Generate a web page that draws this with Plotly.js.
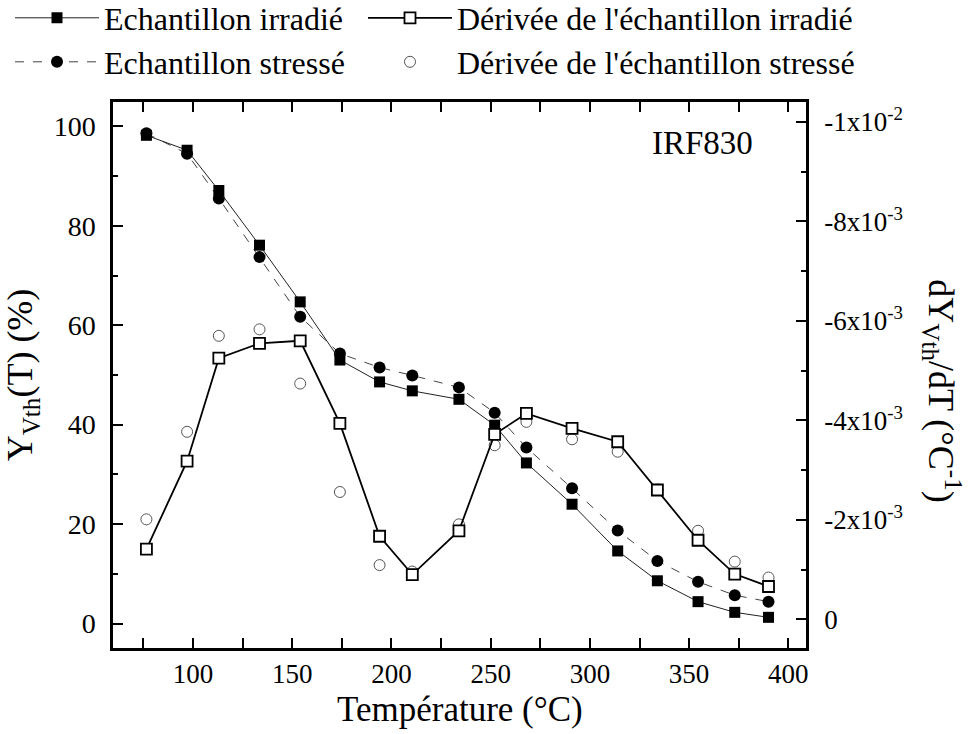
<!DOCTYPE html>
<html>
<head>
<meta charset="utf-8">
<script src="https://cdn.plot.ly/plotly-3.0.1.min.js"></script>
<style>html,body{margin:0;padding:0;background:#fff;}#chart{width:970px;height:734px;}</style>
</head>
<body>
<div id="chart"></div>
<script>
// Temperature (°C)
const temperature = [76.5, 97, 113, 133.5, 154, 174, 194, 210.5, 234, 252, 268, 291, 314, 334, 354.5, 373, 390];
// Y_Vth(T) (%)
const echIrradie = [98.2, 95.2, 87.1, 76.1, 64.7, 53.0, 48.6, 46.8, 45.1, 39.9, 32.3, 24.0, 14.6, 8.6, 4.4, 2.25, 1.25];
const echStresse = [98.6, 94.5, 85.5, 73.7, 61.7, 54.3, 51.5, 49.9, 47.5, 42.4, 35.4, 27.2, 18.7, 12.6, 8.4, 5.7, 4.4];
// dY_Vth/dT (°C^-1)
const derivIrradie = [-1.41e-3, -3.18e-3, -5.25e-3, -5.55e-3, -5.60e-3, -3.94e-3, -1.67e-3, -0.90e-3, -1.78e-3, -3.72e-3, -4.14e-3, -3.84e-3, -3.57e-3, -2.60e-3, -1.59e-3, -0.91e-3, -0.66e-3];
const derivStresse = [-2.01e-3, -3.77e-3, -5.70e-3, -5.83e-3, -4.74e-3, -2.56e-3, -1.09e-3, -0.96e-3, -1.91e-3, -3.50e-3, -3.97e-3, -3.62e-3, -3.37e-3, -2.61e-3, -1.78e-3, -1.16e-3, -0.84e-3];
// Right-axis tick labels
const derivTickVals = [0, -0.002, -0.004, -0.006, -0.008, -0.01];
const derivTickText = ['0', '-2x10<sup>-3</sup>', '-4x10<sup>-3</sup>', '-6x10<sup>-3</sup>', '-8x10<sup>-3</sup>', '-1x10<sup>-2</sup>'];
const derivMinorVals = [-0.001, -0.003, -0.005, -0.007, -0.009];

const FONT = 'Liberation Serif, Times New Roman, serif';

const traces = [
  {
    x: temperature, y: derivStresse, yaxis: 'y2', name: "Dérivée de l'échantillon stressé",
    mode: 'markers', legend: 'legend4',
    marker: {symbol: 'circle-open', size: 11, color: '#555', line: {width: 1, color: '#555'}}
  },
  {
    x: temperature, y: echStresse, name: 'Echantillon stressé', mode: 'lines+markers',
    legend: 'legend3',
    line: {color: '#444', width: 1, dash: 'dash'},
    marker: {symbol: 'circle', size: 12, color: '#000'}
  },
  {
    x: temperature, y: echIrradie, name: 'Echantillon irradié', mode: 'lines+markers',
    legend: 'legend',
    line: {color: '#222', width: 1},
    marker: {symbol: 'square', size: 11, color: '#000'}
  },
  {
    x: temperature, y: derivIrradie, yaxis: 'y2', name: "Dérivée de l'échantillon irradié",
    mode: 'lines+markers', legend: 'legend2',
    line: {color: '#000', width: 1.8},
    marker: {symbol: 'square', size: 11, color: '#fff', line: {width: 1.8, color: '#000'}}
  }
];

function legendAt(xpx, ycenter) {
  return {
    orientation: 'h', xref: 'container', yref: 'container',
    x: xpx / 970, y: 1 - ycenter / 734, xanchor: 'left', yanchor: 'middle',
    font: {family: FONT, size: 32, color: '#000'},
    itemwidth: 84, tracegroupgap: 0,
    bgcolor: 'rgba(0,0,0,0)', borderwidth: 0
  };
}

const layout = {
  width: 970, height: 734,
  paper_bgcolor: '#fff', plot_bgcolor: '#fff',
  margin: {l: 113, r: 164, t: 102, b: 86, autoexpand: false},
  font: {family: FONT, color: '#000', size: 26},
  showlegend: true,
  legend: legendAt(10, 18),
  legend2: legendAt(363, 18),
  legend3: legendAt(10, 62),
  legend4: legendAt(363, 62),
  xaxis: {
    range: [59.66, 408.9], tickmode: 'linear', tick0: 0, dtick: 50,
    ticks: 'inside', ticklen: 10, tickwidth: 2, tickcolor: '#000',
    minor: {ticks: 'inside', ticklen: 5, tickwidth: 2, dtick: 25, tick0: 0, tickcolor: '#000'},
    showline: true, linewidth: 2.5, linecolor: '#000', mirror: 'allticks',
    showgrid: false, zeroline: false,
    tickfont: {family: FONT, size: 27, color: '#000'}, ticklabelstandoff: 0
  },
  yaxis: {
    range: [-4.92, 104.9], tickmode: 'linear', tick0: 0, dtick: 20,
    ticks: 'inside', ticklen: 10, tickwidth: 2, tickcolor: '#000',
    minor: {ticks: 'inside', ticklen: 5, tickwidth: 2, dtick: 10, tick0: 0, tickcolor: '#000'},
    showline: true, linewidth: 2.5, linecolor: '#000',
    showgrid: false, zeroline: false,
    tickfont: {family: FONT, size: 28, color: '#000'}, ticklabelstandoff: 9,
    title: {text: 'Y<sub>Vth</sub>(T) (%)', font: {family: FONT, size: 36, color: '#000'}, standoff: 12}
  },
  yaxis2: {
    overlaying: 'y', side: 'right',
    range: [0.000577, -0.010402],
    tickmode: 'array', tickvals: derivTickVals, ticktext: derivTickText,
    ticks: 'inside', ticklen: 10, tickwidth: 2, tickcolor: '#000',
    minor: {ticks: 'inside', ticklen: 5, tickwidth: 2, tickvals: derivMinorVals, tickcolor: '#000'},
    showline: true, linewidth: 2.5, linecolor: '#000',
    showgrid: false, zeroline: false,
    tickfont: {family: FONT, size: 27, color: '#000'}, ticklabelstandoff: 10
  },
  annotations: [
    {text: 'Température (°C)', xref: 'paper', yref: 'paper', x: 0.5, y: -0.112,
     xanchor: 'center', yanchor: 'middle', showarrow: false,
     font: {family: FONT, size: 35, color: '#000'}},
    {text: 'IRF830', xref: 'paper', yref: 'paper', x: 0.85, y: 0.925,
     xanchor: 'center', yanchor: 'middle', showarrow: false,
     font: {family: FONT, size: 33, color: '#000'}},
    {text: 'dY<sub>Vth</sub>/dT (°C<sup>-1</sup>)', xref: 'paper', yref: 'paper', x: 1.195, y: 0.47,
     xanchor: 'center', yanchor: 'middle', textangle: 90, showarrow: false,
     font: {family: FONT, size: 36, color: '#000'}}
  ]
};

Plotly.newPlot('chart', traces, layout, {displayModeBar: false, responsive: false});
</script>
</body>
</html>
